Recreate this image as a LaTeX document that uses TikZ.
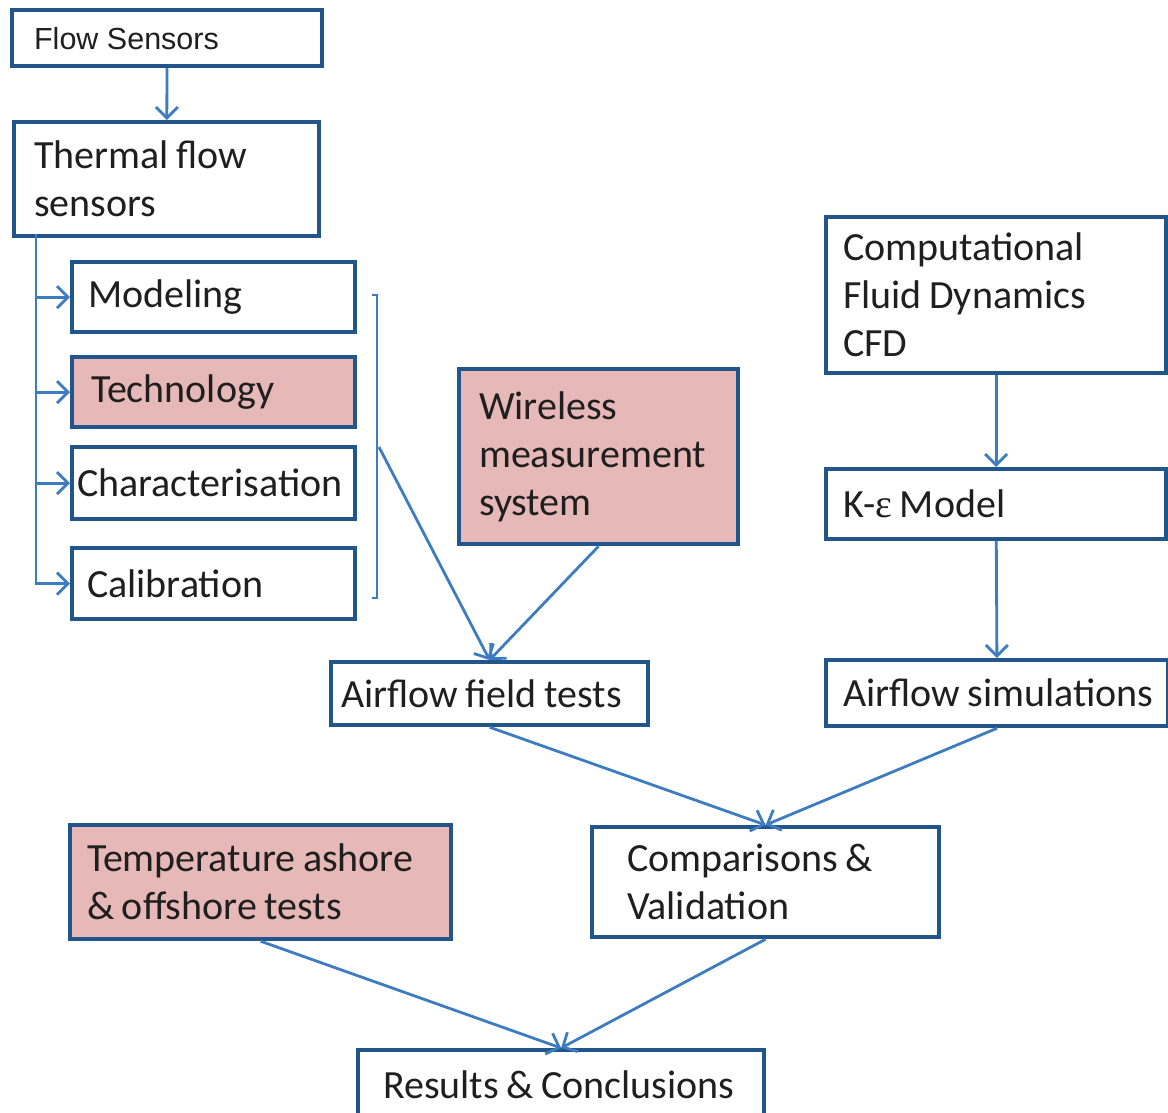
\documentclass[tikz,border=0pt]{standalone}
\usepackage{fontspec}
\setmainfont{Carlito}
\newfontfamily\arialfont{Liberation Sans}
\newfontfamily\greekserif{Liberation Serif}
\usepackage{tikz}
\usetikzlibrary{positioning,arrows.meta}
\usepackage{xcolor}
\definecolor{boxblue}{HTML}{22568A}
\definecolor{arrowblue}{HTML}{3D7CC1}
\definecolor{pinkfill}{HTML}{E6B8B7}

\tikzset{
  blk/.style={draw=boxblue,line width=4.2pt,fill=white,anchor=north west,align=left,
    inner ysep=0pt,font=\fontsize{40}{48}\selectfont,text=black!88,
    execute at begin node={\spaceskip=0.19em\relax}},
  hot/.style={blk,fill=pinkfill},
  link/.style={draw=arrowblue,line width=2.8pt},
}

\begin{document}
\begin{tikzpicture}[x=1pt,y=-1pt,>={Straight Barb[length=11pt,width=22pt]}]
\useasboundingbox (0,0) rectangle (1168,1112);
% left column
\node[blk,font=\arialfont\fontsize{30.5}{36}\selectfont,inner xsep=22pt,text width=266pt,minimum height=56pt,
  execute at begin node={\spaceskip=0.278em\relax}] (flow) at (10,8) {\mbox{Flow Sensors}};
\node[blk,inner xsep=20pt,text width=265pt,minimum height=114pt] (thermal) at (12,120) {Thermal flow\\sensors};
\node[blk,inner xsep=16pt,text width=251pt,minimum height=70pt] (model) at (70,260) {Modeling};
\node[hot,inner xsep=19pt,text width=245pt,minimum height=70pt] (tech) at (70,355) {Technology};
\node[blk,inner xsep=5pt,text width=273pt,minimum height=72pt] (charact) at (70,445) {Characterisation};
\node[blk,inner xsep=15pt,text width=253pt,minimum height=71pt] (calib) at (70,546) {Calibration};
% middle
\node[hot,inner xsep=20pt,text width=239pt,minimum height=175pt] (wireless) at (457,367) {Wireless\\measurement\\system};
\node[blk,inner xsep=10pt,text width=297pt,minimum height=63pt] (field) at (329,660) {\mbox{Airflow field tests}};
% right column
\node[blk,inner xsep=17pt,text width=306pt,minimum height=156pt] (cfd) at (824,215) {Computational\\Fluid Dynamics\\CFD};
\node[blk,inner xsep=17pt,text width=306pt,minimum height=70pt] (keps) at (824,467) {\mbox{K-{\greekserif ε} Model}};
\node[blk,inner xsep=17pt,text width=308pt,minimum height=66pt] (sim) at (824,658) {\mbox{Airflow simulations}};
% bottom
\node[hot,inner xsep=17pt,text width=347pt,minimum height=114pt] (temp) at (68,823) {Temperature ashore\\\& offshore tests};
\node[blk,inner xsep=35pt,text width=277pt,minimum height=110pt] (comp) at (590,825) {Comparisons \&\\Validation};
\node[blk,inner xsep=25pt,text width=356pt,minimum height=70pt] (results) at (356,1048) {\mbox{Results \& Conclusions}};

% connectors
\draw[link,->] (flow) -- (thermal);
\coordinate (bus) at (36,234);
\draw[link,->] (bus) |- (calib.west);
\foreach \n in {model,tech,charact}
  \draw[link,->] (bus |- \n.west) -- (\n.west);
\draw[link,line width=2.2pt] (372,295) -- (377,295) -- (377,598) -- (372,598);
\coordinate (brk) at (379,447);
\draw[link,->] (brk) -- (field.north);
\draw[link,->] (wireless.south) -- (field.north);
\draw[link,->] (cfd) -- (keps);
\draw[link,->] (keps) -- (sim);
\draw[link,->] (field.south) -- (comp.north);
\draw[link,->] (sim.south) -- (comp.north);
\draw[link,->] (temp.south) -- (results.north);
\draw[link,->] (comp.south) -- (results.north);
\end{tikzpicture}
\end{document}
